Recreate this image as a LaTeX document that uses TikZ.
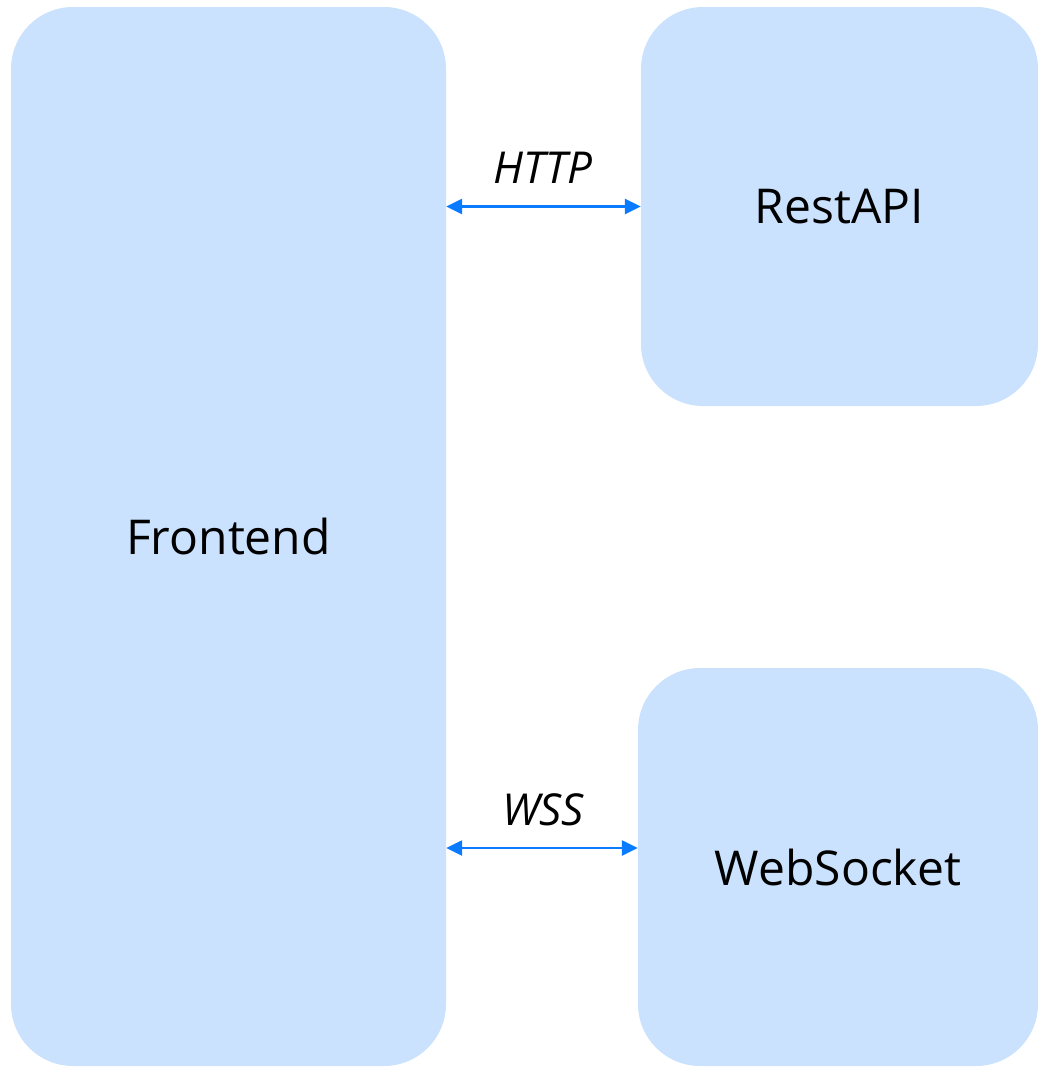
\documentclass[tikz,border=0pt]{standalone}
\usepackage{fontspec}
\setmainfont{Open Sans}
\usetikzlibrary{arrows.meta}
\definecolor{boxfill}{HTML}{CAE2FD}
\definecolor{arrblue}{HTML}{0A7AFF}
\begin{document}
\begin{tikzpicture}[x=1pt,y=-1pt,
  box/.style={fill=boxfill, draw=none, rounded corners=62pt, inner sep=0pt,
    font=\fontsize{48}{56}\selectfont},
  conn/.style={draw=arrblue, line width=2.5pt,
    {Triangle[length=16pt,width=15pt]}-{Triangle[length=16pt,width=15pt]}},
  lab/.style={font=\fontsize{44}{50}\selectfont\itshape, inner sep=0pt}]
\useasboundingbox (0,0) rectangle (1038,1068);
\node[box, minimum width=435pt, minimum height=1059pt] (front) at (228.5,536.5) {Frontend};
\node[box, minimum width=397pt, minimum height=399pt] (rest) at (839.5,206.5) {RestAPI};
\node[box, minimum width=400pt, minimum height=398pt] (ws) at (838,867) {WebSocket};
\draw[conn] (rest.west -| front.east) -- (rest.west);
\draw[conn] ([yshift=19pt]ws.west -| front.east) -- ([yshift=19pt]ws.west);
\node[lab] (http) at (543,168) {HTTP};
\node[lab] (wss) at (543,810) {WSS};
\end{tikzpicture}
\end{document}
